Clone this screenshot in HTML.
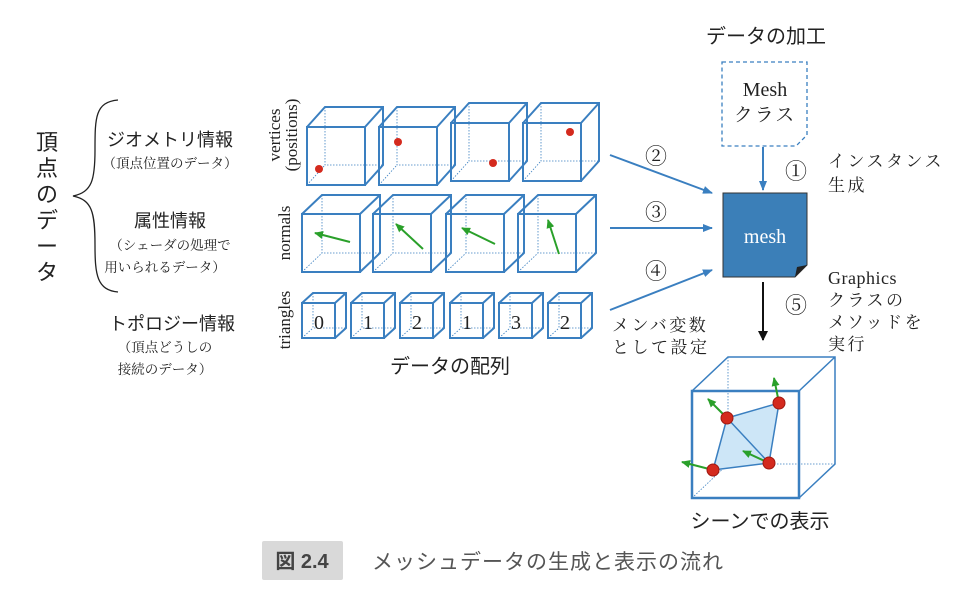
<!DOCTYPE html><html><head><meta charset="utf-8"><style>body{margin:0;background:#fff}svg{display:block}
.s{font-family:"Liberation Sans","Noto Sans CJK JP",sans-serif;fill:#222}
.r{font-family:"Liberation Serif","Noto Serif CJK SC",serif;fill:#222}
</style></head><body>
<svg width="971" height="589" viewBox="0 0 971 589" xmlns="http://www.w3.org/2000/svg">
<defs>
<marker id="ab" markerWidth="10" markerHeight="8" refX="9" refY="4" orient="auto" markerUnits="userSpaceOnUse"><path d="M0,0 L10,4 L0,8 z" fill="#3a7fc0"/></marker>
<marker id="ak" markerWidth="10" markerHeight="10" refX="9" refY="5" orient="auto" markerUnits="userSpaceOnUse"><path d="M0,0 L10,5 L0,10 z" fill="#111"/></marker>
<marker id="ag" markerWidth="9" markerHeight="8" refX="8" refY="4" orient="auto" markerUnits="userSpaceOnUse"><path d="M0,0 L9,4 L0,8 z" fill="#2aa02a"/></marker>
<g id="c1" fill="none" stroke="#3a7fc0">
<path d="M18,-20 V38 H76 M0,58 L18,38" stroke-width="0.8" stroke-dasharray="1.5 1.5"/>
<path d="M0,0 H58 V58 H0 Z M0,0 L18,-20 H76 V38 L58,58 M58,0 L76,-20" stroke-width="2"/></g>
<g id="c2" fill="none" stroke="#3a7fc0">
<path d="M20,-19 V39 H78 M0,58 L20,39" stroke-width="0.8" stroke-dasharray="1.5 1.5"/>
<path d="M0,0 H58 V58 H0 Z M0,0 L20,-19 H78 V39 L58,58 M58,0 L78,-19" stroke-width="2"/></g>
<g id="c3" fill="none" stroke="#3a7fc0">
<path d="M11,-10 V25 H44 M0,35 L11,25" stroke-width="0.8" stroke-dasharray="1.5 1.5"/>
<path d="M0,0 H33 V35 H0 Z M0,0 L11,-10 H44 V25 L33,35 M33,0 L44,-10" stroke-width="2"/></g>
</defs>
<g class="s" font-size="22" text-anchor="middle"><text x="47" y="150">頂</text><text x="47" y="176">点</text><text x="47" y="202">の</text><text x="47" y="228">デ</text><text x="47" y="254">ー</text><text x="47" y="280">タ</text></g>
<path d="M118,100 C95,102 95,118 95,150 C95,180 92,192 73,196 C92,200 95,212 95,245 C95,275 97,290 118,292" fill="none" stroke="#222" stroke-width="1.3"/>
<g text-anchor="middle"><text class="s" x="170" y="146" font-size="18">ジオメトリ情報</text><text class="r" x="170" y="168" font-size="13.5">（頂点位置のデータ）</text>
<text class="s" x="170" y="227" font-size="18">属性情報</text><text class="r" x="170" y="250" font-size="13.5">（シェーダの処理で</text><text class="r" x="165" y="272" font-size="13.5">用いられるデータ）</text>
<text class="s" x="172" y="330" font-size="18">トポロジー情報</text><text class="r" x="165" y="352" font-size="13.5">（頂点どうしの</text><text class="r" x="165" y="374" font-size="13.5">接続のデータ）</text></g>
<g class="r" font-size="17" text-anchor="middle"><text transform="translate(280,135) rotate(-90)">vertices</text><text transform="translate(297,135) rotate(-90)">(positions)</text><text transform="translate(290,233) rotate(-90)">normals</text><text transform="translate(290,320) rotate(-90)">triangles</text></g>
<use href="#c1" x="307" y="127"/><use href="#c1" x="379" y="127"/><use href="#c1" x="451" y="123"/><use href="#c1" x="523" y="123"/>
<g fill="#d42a1e"><circle cx="319" cy="169" r="4"/><circle cx="398" cy="142" r="4"/><circle cx="493" cy="163" r="4"/><circle cx="570" cy="132" r="4"/></g>
<use href="#c2" x="302" y="214"/><use href="#c2" x="373" y="214"/><use href="#c2" x="446" y="214"/><use href="#c2" x="518" y="214"/>
<g stroke="#2aa02a" stroke-width="2" marker-end="url(#ag)"><line x1="350" y1="242" x2="315" y2="233"/><line x1="423" y1="249" x2="396" y2="224"/><line x1="495" y1="244" x2="462" y2="228"/><line x1="559" y1="254" x2="548" y2="220"/></g>
<use href="#c3" x="302" y="303"/><use href="#c3" x="351" y="303"/><use href="#c3" x="400" y="303"/><use href="#c3" x="450" y="303"/><use href="#c3" x="499" y="303"/><use href="#c3" x="548" y="303"/>
<g class="r" font-size="20" text-anchor="middle"><text x="319" y="329">0</text><text x="368" y="329">1</text><text x="417" y="329">2</text><text x="467" y="329">1</text><text x="516" y="329">3</text><text x="565" y="329">2</text></g>
<text class="s" x="450" y="373" font-size="20" text-anchor="middle">データの配列</text>
<g stroke="#3a7fc0" stroke-width="2" marker-end="url(#ab)"><line x1="610" y1="155" x2="712" y2="193"/><line x1="610" y1="228" x2="712" y2="228"/><line x1="610" y1="310" x2="712" y2="270"/><line x1="763" y1="147" x2="763" y2="190"/></g>
<line x1="763" y1="282" x2="763" y2="340" stroke="#111" stroke-width="2" marker-end="url(#ak)"/>
<g class="r" font-size="22" text-anchor="middle"><text x="656" y="164">②</text><text x="656" y="220">③</text><text x="656" y="279">④</text><text x="796" y="179">①</text><text x="796" y="313">⑤</text></g>
<text class="s" x="766" y="43" font-size="20" text-anchor="middle">データの加工</text>
<path d="M722,62 H807 V135 L796,146 H722 Z" fill="none" stroke="#3a7fc0" stroke-width="1.3" stroke-dasharray="4 3"/>
<text class="r" x="765" y="96" font-size="20" text-anchor="middle">Mesh</text><text class="r" x="765" y="121" font-size="19" text-anchor="middle" letter-spacing="2">クラス</text>
<path d="M723,193 H807 V265 L795,277 H723 Z" fill="#3b7fb8" stroke="#333" stroke-width="1"/><path d="M795,277 L797,267 L807,265 Z" fill="#222"/>
<text x="765" y="243" font-size="20" text-anchor="middle" fill="#fff" font-family="Liberation Serif,serif">mesh</text>
<g class="r" font-size="17" letter-spacing="2.5"><text x="828" y="167">インスタンス</text><text x="828" y="191">生成</text><text x="828" y="284" letter-spacing="0.5" font-size="18">Graphics</text><text x="828" y="306">クラスの</text><text x="828" y="328">メソッドを</text><text x="828" y="350">実行</text><text x="612" y="331">メンバ変数</text><text x="612" y="353">として設定</text></g>
<g fill="none" stroke="#3a7fc0">
<path d="M728,357 V464 H835 M692,498 L728,464" stroke-width="0.8" stroke-dasharray="1.5 1.5"/>
<polygon points="727,418 779,403 769,463 713,470" fill="#cde6f7" stroke-width="1.5"/><line x1="727" y1="418" x2="769" y2="463" stroke-width="1.5"/>
<path d="M692,391 H799 V498 H692 Z" stroke-width="2.5"/><path d="M692,391 L728,357 H835 V464 L799,498 M799,391 L835,357" stroke-width="1.5"/></g>
<g stroke="#2aa02a" stroke-width="2" marker-end="url(#ag)"><line x1="727" y1="418" x2="708" y2="399"/><line x1="779" y1="403" x2="774" y2="378"/><line x1="769" y1="463" x2="743" y2="451"/><line x1="713" y1="470" x2="682" y2="462"/></g>
<g fill="#d42a1e" stroke="#a01810"><circle cx="727" cy="418" r="6"/><circle cx="779" cy="403" r="6"/><circle cx="769" cy="463" r="6"/><circle cx="713" cy="470" r="6"/></g>
<text class="s" x="760" y="528" font-size="20" text-anchor="middle">シーンでの表示</text>
<rect x="262" y="541" width="81" height="39" rx="2" fill="#d9d9d9"/>
<text class="s" x="302" y="568" font-size="20" text-anchor="middle" font-weight="bold" style="fill:#444">図 2.4</text>
<text class="s" x="372" y="569" font-size="21" letter-spacing="1" style="fill:#555">メッシュデータの生成と表示の流れ</text>
</svg></body></html>
